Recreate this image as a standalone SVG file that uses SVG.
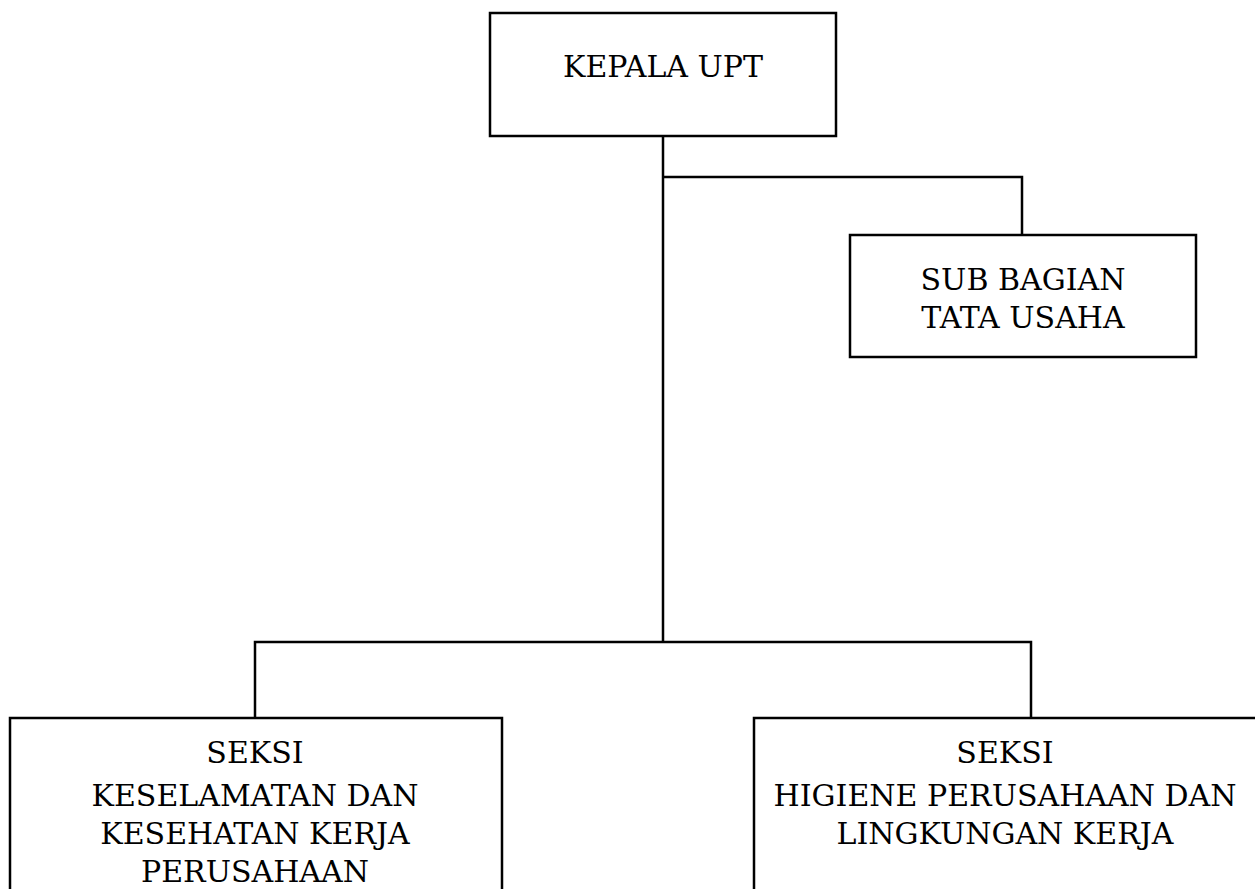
<svg xmlns="http://www.w3.org/2000/svg" width="1255" height="889" viewBox="0 0 1255 889">
<style>
.box{fill:#fff;stroke:#000;stroke-width:2.5}
.ln{fill:none;stroke:#000;stroke-width:2.5}
text{font-family:"DejaVu Serif","Liberation Serif",serif;font-size:30px;fill:#000;text-anchor:middle}
</style>
<rect width="1255" height="889" fill="#fff"/>
<g id="connectors">
<path class="ln" d="M663,136 V642"/>
<path class="ln" d="M663,177 H1022 V235"/>
<path class="ln" d="M255,718 V642 H1031 V718"/>
</g>
<g id="kepala">
<rect class="box" x="490" y="13" width="346" height="123"/>
<text x="663" y="77">KEPALA UPT</text>
</g>
<g id="subbagian">
<rect class="box" x="850" y="235" width="346" height="122"/>
<text x="1023" y="290">SUB BAGIAN</text>
<text x="1023" y="328">TATA USAHA</text>
</g>
<g id="seksi-k3">
<path class="box" d="M10,900 V718 H502 V900"/>
<text x="255" y="763">SEKSI</text>
<text x="255" y="806">KESELAMATAN DAN</text>
<text x="255" y="844">KESEHATAN KERJA</text>
<text x="255" y="882">PERUSAHAAN</text>
</g>
<g id="seksi-higiene">
<path class="box" d="M754,900 V718 H1270"/>
<text x="1005" y="763">SEKSI</text>
<text x="1005" y="806">HIGIENE PERUSAHAAN DAN</text>
<text x="1005" y="844">LINGKUNGAN KERJA</text>
</g>
</svg>
